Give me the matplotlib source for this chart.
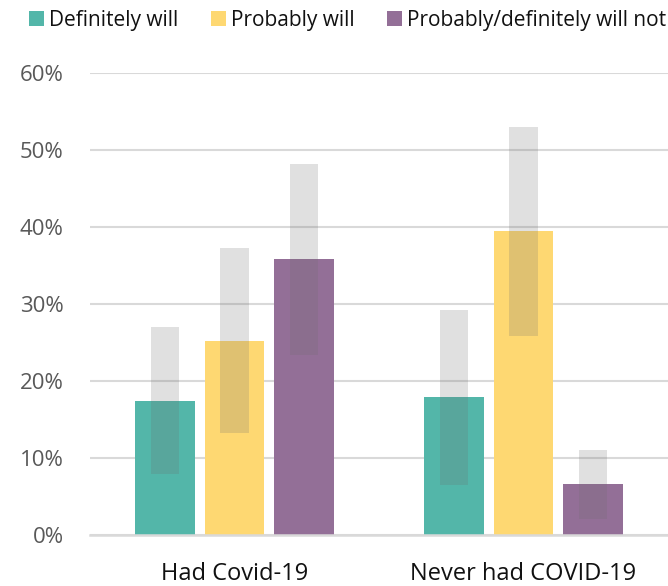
import matplotlib
matplotlib.use("Agg")
import matplotlib.pyplot as plt
from matplotlib.patches import Patch
from matplotlib.ticker import FuncFormatter
import numpy as np

plt.rcParams['font.family'] = ['Open Sans', 'DejaVu Sans']

groups = ["Had Covid-19", "Never had COVID-19"]
series = ["Definitely will", "Probably will", "Probably/definitely will not"]
colors = ["#53B6A9", "#FED872", "#936F97"]

# point estimates (%) per series, one value per group
values = {
    "Definitely will": [17.4, 17.9],
    "Probably will": [25.2, 39.5],
    "Probably/definitely will not": [35.8, 6.6],
}
# confidence interval bounds (%)
ci_low = {
    "Definitely will": [7.9, 6.5],
    "Probably will": [13.2, 25.8],
    "Probably/definitely will not": [23.4, 2.1],
}
ci_high = {
    "Definitely will": [27.0, 29.2],
    "Probably will": [37.3, 53.0],
    "Probably/definitely will not": [48.2, 11.0],
}
yticks = [0, 10, 20, 30, 40, 50, 60]

fig = plt.figure(figsize=(6.68, 5.86), dpi=100)
ax = fig.add_axes([90 / 668, 1 - 535 / 586, 578 / 668, 462 / 586])

x = np.arange(len(groups))
step = 0.239
width = 0.2076
ci_width = 0.097

for i, s in enumerate(series):
    pos = x + (i - 1) * step
    ax.bar(pos, values[s], width=width, color=colors[i], zorder=2)
    lo = np.array(ci_low[s])
    hi = np.array(ci_high[s])
    ax.bar(pos, hi - lo, bottom=lo, width=ci_width, color="#6e6e6e",
           alpha=0.21, zorder=3, linewidth=0)

ax.set_xlim(-0.5, 1.5)
ax.set_ylim(0, 60)
ax.set_yticks(yticks)
ax.yaxis.set_major_formatter(FuncFormatter(lambda v, p: f"{v:.0f}%"))
ax.set_xticks(x)
ax.set_xticklabels(groups)
ax.grid(axis="y", color="#d9d9d9", linewidth=1.5, zorder=0)
ax.set_axisbelow(True)
for side in ["top", "right", "left"]:
    ax.spines[side].set_visible(False)
ax.spines["bottom"].set_color("#d9d9d9")
ax.spines["bottom"].set_linewidth(1.8)
ax.tick_params(axis="y", length=0, pad=19, labelsize=16, labelcolor="#595959")
ax.tick_params(axis="x", length=0, pad=19.5, labelsize=17, labelcolor="#111111")

handles = [Patch(facecolor=c, edgecolor="none") for c in colors]
leg = fig.legend(handles, series, loc="upper center", bbox_to_anchor=(0.52, 1.015),
                 ncol=3, frameon=False, fontsize=15, handlelength=0.72,
                 handleheight=0.72, handletextpad=0.25, columnspacing=1.55)
for t in leg.get_texts():
    t.set_color("#111111")

fig.savefig("out.png", dpi=100)
